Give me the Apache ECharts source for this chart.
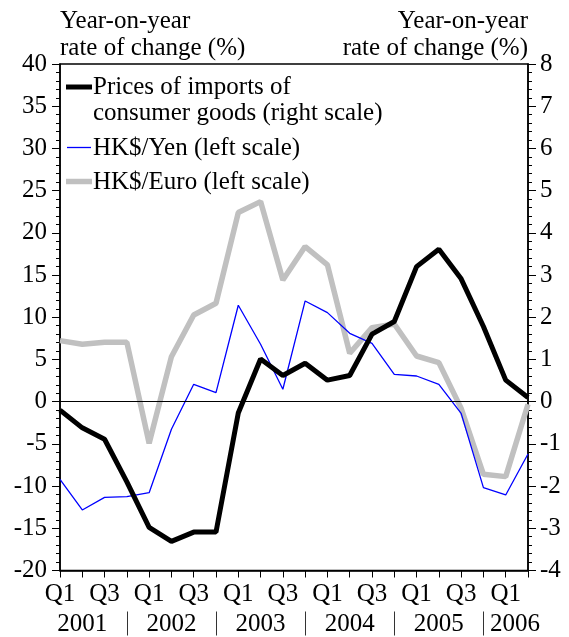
<!DOCTYPE html>
<html>
<head>
<meta charset="utf-8">
<style>
  html, body { margin: 0; padding: 0; background: #fff; }
  #chart { width: 569px; height: 637px; }
</style>
<script src="https://cdn.jsdelivr.net/npm/echarts@6/dist/echarts.min.js"></script>
</head>
<body>
<div id="chart"></div>
<script>
// Quarterly periods, Q1 2001 to Q2 2006
var years = ['2001', '2002', '2003', '2004', '2005', '2006'];
var quarterNames = ['Q1', 'Q2', 'Q3', 'Q4'];
var periodCount = 22;

// Year-on-year rate of change (%)
var importPrices = [-0.2, -0.62, -0.89, -1.9, -2.98, -3.31, -3.09, -3.09, -0.27, 1.01, 0.62,
                    0.91, 0.51, 0.62, 1.6, 1.9, 3.2, 3.61, 2.91, 1.78, 0.51, 0.1];
var hkdYen = [-9.2, -12.83, -11.33, -11.25, -10.78, -3.27, 2.06, 1.07, 11.42, 6.8, 1.47,
              11.93, 10.55, 8.1, 6.9, 3.24, 3.04, 2.06, -1.38, -10.19, -11.05, -6.2];
var hkdEuro = [7.23, 6.8, 7.04, 7.04, -4.93, 5.33, 10.27, 11.66, 22.4, 23.7, 14.42,
               18.37, 16.2, 5.73, 8.77, 9.2, 5.41, 4.62, -0.79, -8.6, -8.88, -0.3];

// Axis scales
var leftScale = { min: -20, max: 40, step: 5 };
var rightScale = { min: -4, max: 8, step: 1 };

var seriesNames = {
  imports: 'Prices of imports of\nconsumer goods (right scale)',
  yen: 'HK$/Yen (left scale)',
  euro: 'HK$/Euro (left scale)'
};

var periods = [];
for (var i = 0; i < periodCount; i++) {
  periods.push(quarterNames[i % 4] + ' ' + years[Math.floor(i / 4)]);
}

var FONT = 'Liberation Serif';
var FS = 25;
var axisText = { color: '#000', fontFamily: FONT, fontSize: FS };
var axisLineStyle = { color: '#000', width: 1.5 };

var chart = echarts.init(document.getElementById('chart'), null, { renderer: 'canvas' });

var grid = { left: 60, right: 41, top: 64, bottom: 66.5 };

var option = {
  animation: false,
  backgroundColor: '#fff',
  textStyle: { fontFamily: FONT },
  grid: Object.assign({ show: true, borderColor: '#000', borderWidth: 1.5, backgroundColor: 'transparent' }, grid),
  xAxis: [
    {
      type: 'category',
      data: periods,
      boundaryGap: false,
      position: 'bottom',
      axisLine: { show: true, onZero: false, lineStyle: axisLineStyle },
      axisTick: { show: true, interval: 0, length: 7, lineStyle: { color: '#000', width: 1 } },
      axisLabel: Object.assign({
        interval: 1,
        margin: 11,
        formatter: function (v) { return v.split(' ')[0]; }
      }, axisText),
      splitLine: { show: false }
    },
    {
      // year row with separators at the turn of each year
      type: 'category',
      data: periods,
      boundaryGap: false,
      position: 'bottom',
      offset: 41,
      axisLine: { show: false, onZero: false },
      axisTick: {
        show: true,
        length: 24,
        interval: function (idx) { return idx % 4 === 3; },
        lineStyle: { color: '#333', width: 1 }
      },
      axisLabel: Object.assign({
        interval: function (idx) { return idx % 4 === 1; },
        margin: 0,
        formatter: function (v, idx) {
          var y = v.split(' ')[1];
          return idx === periodCount - 1 ? '{e|' + y + '}' : y;
        },
        rich: { e: { fontFamily: FONT, fontSize: FS, color: '#000', padding: [0, 26, 0, 0] } }
      }, axisText),
      splitLine: { show: false }
    }
  ],
  yAxis: [
    {
      type: 'value',
      position: 'left',
      min: leftScale.min, max: leftScale.max, interval: leftScale.step,
      name: 'Year-on-year\nrate of change (%)',
      nameLocation: 'end',
      nameGap: 2,
      nameTextStyle: { color: '#000', fontFamily: FONT, fontSize: FS, align: 'left', verticalAlign: 'bottom', lineHeight: 27 },
      axisLine: { show: true, lineStyle: axisLineStyle },
      axisTick: { show: true, inside: false, length: 8, lineStyle: { color: '#000', width: 1 } },
      minorTick: { show: true, splitNumber: 5, length: 4, lineStyle: { color: '#000', width: 1 } },
      axisLabel: Object.assign({ margin: 13 }, axisText),
      splitLine: { show: false }
    },
    {
      type: 'value',
      position: 'right',
      min: rightScale.min, max: rightScale.max, interval: rightScale.step,
      name: 'Year-on-year\nrate of change (%)',
      nameLocation: 'end',
      nameGap: 2,
      nameTextStyle: { color: '#000', fontFamily: FONT, fontSize: FS, align: 'right', verticalAlign: 'bottom', lineHeight: 27 },
      axisLine: { show: true, lineStyle: axisLineStyle },
      axisTick: { show: true, inside: false, length: 8, lineStyle: { color: '#000', width: 1 } },
      minorTick: { show: true, splitNumber: 5, length: 4, lineStyle: { color: '#000', width: 1 } },
      axisLabel: Object.assign({ margin: 12 }, axisText),
      splitLine: { show: false }
    }
  ],
  series: [
    {
      name: seriesNames.euro,
      type: 'line',
      xAxisIndex: 0, yAxisIndex: 0,
      data: hkdEuro,
      showSymbol: false,
      lineStyle: { color: '#c0c0c0', width: 5.5 },
      z: 2
    },
    {
      name: seriesNames.yen,
      type: 'line',
      xAxisIndex: 0, yAxisIndex: 0,
      data: hkdYen,
      showSymbol: false,
      lineStyle: { color: '#0000ff', width: 1.3 },
      markLine: {
        silent: true,
        symbol: ['none', 'none'],
        label: { show: false },
        lineStyle: { color: '#000', width: 1.2, type: 'solid' },
        data: [{ yAxis: 0 }]
      },
      z: 3
    },
    {
      name: seriesNames.imports,
      type: 'line',
      xAxisIndex: 0, yAxisIndex: 1,
      data: importPrices,
      showSymbol: false,
      lineStyle: { color: '#000', width: 5 },
      z: 4
    }
  ],
  graphic: [
    // legend keys
    { type: 'line', shape: { x1: 66, y1: 87, x2: 92, y2: 87 }, style: { stroke: '#000', lineWidth: 5 } },
    { type: 'text', left: 93, top: 74.5, style: { text: seriesNames.imports, fontFamily: FONT, fontSize: FS, lineHeight: 26, fill: '#000' } },
    { type: 'line', shape: { x1: 67, y1: 147.5, x2: 91, y2: 147.5 }, style: { stroke: '#0000ff', lineWidth: 1.3 } },
    { type: 'text', left: 93, top: 135, style: { text: seriesNames.yen, fontFamily: FONT, fontSize: FS, lineHeight: 26, fill: '#000' } },
    { type: 'line', shape: { x1: 66, y1: 181.5, x2: 92, y2: 181.5 }, style: { stroke: '#c0c0c0', lineWidth: 5.5 } },
    { type: 'text', left: 93, top: 169, style: { text: seriesNames.euro, fontFamily: FONT, fontSize: FS, lineHeight: 26, fill: '#000' } }
  ]
};

chart.setOption(option);
</script>
</body>
</html>
